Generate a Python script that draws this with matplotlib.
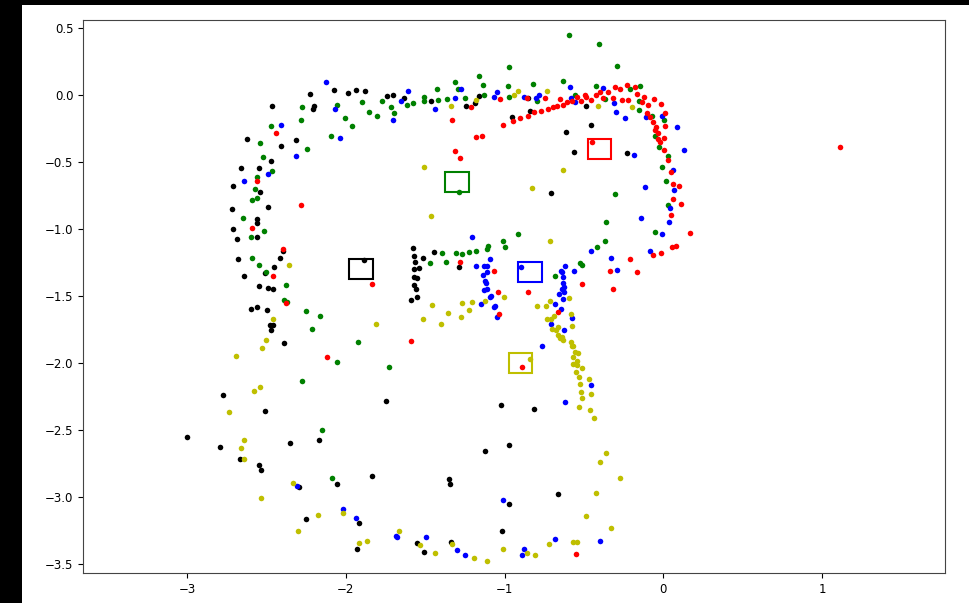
import numpy as np
import matplotlib
matplotlib.use('Agg')
import matplotlib.pyplot as plt
from matplotlib.patches import Rectangle

# scan points per track (x, y)
black_pts = np.array([
    (-2.077, 0.037), (-1.987, 0.013), (-1.936, 0.037), (-1.878, 0.030), (-1.741, -0.007),
    (-1.703, 0.0), (-1.632, -0.022), (-1.464, -0.047), (-2.199, -0.080), (-2.207, -0.104),
    (-2.226, 0.005), (-2.467, -0.085), (-2.621, -0.331), (-2.409, -0.378), (-2.316, -0.338),
    (-2.472, -0.493), (-2.661, -0.545), (-2.549, -0.545), (-2.713, -0.679), (-2.539, -0.726),
    (-2.492, -0.836), (-2.717, -0.853), (-2.562, -0.928), (-2.562, -0.957), (-2.713, -1.002),
    (-2.562, -1.060), (-2.686, -1.075),
    (-1.160, -0.005), (-1.187, -0.057), (-1.246, -0.085), (-0.851, -0.020), (-0.843, -0.117),
    (-0.952, -0.162), (-0.486, -0.080), (-0.455, -0.221), (-0.616, -0.279), (-0.564, -0.428),
    (-0.228, -0.435), (-0.707, -0.731),
    (-2.394, -1.164), (-2.679, -1.221), (-2.415, -1.216), (-2.453, -1.286), (-2.510, -1.331),
    (-2.642, -1.351), (-2.549, -1.428), (-2.489, -1.438), (-2.459, -1.450), (-2.596, -1.597),
    (-2.558, -1.584), (-2.497, -1.602), (-2.478, -1.719), (-2.459, -1.719), (-2.472, -1.756),
    (-2.388, -1.848), (-1.884, -1.234), (-2.776, -2.241), (-2.511, -2.358), (-1.747, -2.281),
    (-1.576, -1.144), (-1.569, -1.201), (-1.565, -1.246), (-1.569, -1.299), (-1.541, -1.289),
    (-1.569, -1.356), (-1.550, -1.366), (-1.569, -1.420), (-1.559, -1.450), (-1.552, -1.505),
    (-1.588, -1.532), (-1.514, -1.219), (-1.443, -1.169),
    (-1.290, -1.286), (-1.023, -2.313), (-0.817, -2.346),
    (-2.169, -2.572), (-2.350, -2.597), (-2.795, -2.629), (-2.667, -2.714), (-2.549, -2.759),
    (-2.537, -2.799), (-2.297, -2.928), (-2.058, -2.906), (-1.834, -2.843), (-2.253, -3.164),
    (-1.916, -3.192), (-1.928, -3.390), (-1.554, -3.346), (-1.508, -3.410),
    (-0.973, -2.609), (-1.126, -2.657), (-1.353, -2.868), (-1.346, -2.905), (-0.662, -2.978),
    (-0.973, -3.055), (-1.019, -3.256), (-1.340, -3.338), (-3.0, -2.552),
])

green_pts = np.array([
    (-1.579, -0.060), (-1.613, -0.072), (-1.508, -0.013), (-1.508, -0.047), (-1.424, 0.042),
    (-1.420, -0.035), (-1.697, -0.132), (-1.716, -0.092), (-1.775, -0.047), (-1.806, -0.157),
    (-1.853, -0.125), (-1.897, -0.055), (-1.962, -0.234), (-2.008, -0.169), (-2.092, -0.306),
    (-2.054, -0.072), (-2.278, -0.092), (-2.285, -0.184), (-2.474, -0.229), (-2.247, -0.403),
    (-2.539, -0.356), (-2.524, -0.460), (-2.465, -0.570), (-2.558, -0.609), (-2.574, -0.699),
    (-2.589, -0.784), (-2.558, -0.769), (-2.648, -0.918), (-2.518, -1.017), (-2.598, -1.060),
    (-0.973, 0.211), (-0.293, 0.219), (-1.160, 0.142), (-1.315, 0.095), (-1.135, 0.072),
    (-1.294, 0.042), (-0.979, 0.065), (-0.824, 0.082), (-0.631, 0.102), (-0.973, -0.013),
    (-0.798, -0.042), (-1.128, 0.0), (-1.363, -0.030), (-1.252, -0.020), (-0.555, 0.002),
    (-0.423, 0.069), (-0.366, -0.032), (-0.150, 0.069), (-0.209, 0.045), (-0.152, -0.112),
    (-0.156, -0.047), (-0.071, -0.154), (0.005, -0.187), (-0.052, -0.306), (-0.028, -0.390),
    (0.028, -0.455), (-0.009, -0.537), (0.014, -0.639), (0.028, -0.821), (-0.305, -0.739),
    (-0.364, -0.945), (-0.054, -1.022), (-1.290, -0.724), (-0.914, -1.035),
    (-0.370, -1.092), (-0.597, 0.445), (-0.404, 0.381),
    (-2.589, -1.214), (-2.549, -1.266), (-2.501, -1.318), (-2.375, -1.415), (-2.388, -1.532),
    (-2.371, -1.545), (-2.251, -1.614), (-2.161, -1.647), (-2.213, -1.744), (-1.922, -1.841),
    (-2.058, -1.990), (-1.729, -2.030), (-2.278, -2.132), (-1.470, -1.254),
    (-1.011, -1.087), (-0.998, -1.137), (-1.107, -1.127), (-1.110, -1.152), (-1.179, -1.164),
    (-1.225, -1.172), (-1.269, -1.189), (-1.309, -1.181), (-1.393, -1.181), (-1.372, -1.249),
    (-0.681, -1.351), (-0.417, -1.132), (-0.524, -1.251), (-0.515, -1.266),
    (-2.149, -2.500), (-2.086, -2.856),
])

blue_pts = np.array([
    (-2.123, 0.095), (-1.611, 0.030), (-1.651, -0.047), (-1.437, -0.104), (-1.703, -0.189),
    (-2.039, -0.318), (-2.067, -0.104), (-2.409, -0.221), (-2.316, -0.455), (-2.491, -0.590),
    (-2.642, -0.642),
    (-1.277, 0.045), (-0.591, 0.057), (-1.049, 0.020), (-1.069, -0.013), (-0.784, 0.0),
    (-0.803, -0.025), (-0.877, -0.013), (-1.313, -0.020), (-0.585, -0.025), (-0.557, -0.055),
    (-0.379, 0.050), (-0.314, -0.060), (-0.299, -0.129), (-0.241, -0.169), (-0.108, -0.162),
    (-0.008, -0.154), (0.087, -0.241), (0.127, -0.408), (0.060, -0.557), (0.068, -0.711),
    (-0.118, -0.687), (0.041, -0.841), (0.035, -0.945), (-0.140, -0.918), (-0.008, -1.035),
    (-0.184, -0.448), (-1.206, -1.060), (-0.085, -1.164), (-0.333, -1.214),
    (-0.897, -1.281), (-1.095, -1.221), (-1.179, -1.274), (-1.128, -1.274), (-1.110, -1.274),
    (-1.139, -1.343), (-1.113, -1.323), (-1.122, -1.388), (-1.118, -1.405), (-1.128, -1.455),
    (-1.110, -1.445), (-1.093, -1.505), (-1.086, -1.502), (-1.149, -1.557), (-1.069, -1.580),
    (-1.059, -1.572), (-1.048, -1.659), (-0.765, -1.876), (-0.622, -1.274), (-0.645, -1.311),
    (-0.641, -1.321), (-0.631, -1.361), (-0.633, -1.401), (-0.627, -1.433), (-0.639, -1.448),
    (-0.628, -1.468), (-0.660, -1.485), (-0.633, -1.522), (-0.683, -1.557), (-0.644, -1.599),
    (-0.707, -1.707), (-0.576, -1.667), (-0.628, -1.756), (-0.564, -1.311), (-0.455, -1.162),
    (-0.293, -1.306), (-0.457, -2.164), (-0.622, -2.289),
    (-2.306, -2.915), (-2.020, -3.092), (-1.936, -3.159), (-1.685, -3.289), (-1.678, -3.301),
    (-1.496, -3.301), (-1.011, -3.022), (-1.302, -3.398), (-1.250, -3.435), (-0.880, -3.386),
    (-0.889, -3.435), (-0.681, -3.313), (-0.402, -3.326),
])

red_pts = np.array([
    (-2.440, -0.286), (-2.558, -0.642), (-2.285, -0.821), (-2.589, -0.995),
    (-1.031, -0.028), (-0.746, -0.020), (-0.861, -0.025), (-1.210, -0.092), (-1.334, -0.189),
    (-0.946, -0.196), (-1.009, -0.226), (-0.902, -0.169), (-0.851, -0.154), (-0.817, -0.129),
    (-0.771, -0.117), (-0.727, -0.104), (-0.698, -0.092), (-0.669, -0.080), (-0.635, -0.077),
    (-0.654, -0.028), (-0.608, -0.055), (-0.578, -0.042), (-0.547, -0.017), (-0.520, -0.042),
    (-0.492, 0.002), (-0.488, -0.013), (-0.455, -0.037), (-0.427, -0.002), (-0.402, 0.022),
    (-0.350, 0.025), (-0.304, 0.057), (-0.274, 0.042), (-0.383, -0.022), (-0.318, -0.025),
    (-0.261, -0.040), (-0.222, -0.040), (-0.228, 0.077), (-0.178, 0.057), (-0.165, 0.010),
    (-0.125, -0.015), (-0.134, -0.055), (-0.099, -0.072), (-0.060, -0.028), (-0.016, -0.065),
    (-0.106, -0.132), (-0.083, -0.162), (0.009, -0.137), (-0.068, -0.201), (0.009, -0.234),
    (-0.049, -0.239), (-0.052, -0.261), (-0.035, -0.286), (0.005, -0.318), (-0.033, -0.326),
    (-0.024, -0.351), (0.005, -0.410), (0.030, -0.485), (0.045, -0.577), (0.060, -0.666),
    (0.100, -0.679), (0.062, -0.776), (0.108, -0.816), (0.049, -0.898), (0.165, -1.030),
    (-0.448, -0.351), (-1.179, -0.311), (-1.141, -0.306), (-1.315, -0.415), (-1.282, -0.468),
    (1.110, -0.390), (0.055, -1.132), (0.077, -1.125), (-0.016, -1.181), (-0.068, -1.194),
    (-0.211, -1.224),
    (-2.394, -1.149), (-2.459, -1.351), (-2.375, -1.555), (-2.117, -1.958), (-1.834, -1.408),
    (-1.588, -1.836), (-1.282, -1.249), (-1.067, -1.311), (-1.036, -1.634), (-1.044, -1.472),
    (-0.855, -1.468), (-0.889, -2.030), (-0.662, -1.617), (-0.513, -1.408), (-0.339, -1.311),
    (-0.318, -1.448), (-0.165, -1.318), (-0.553, -3.428),
])

yellow_pts = np.array([
    (-1.508, -0.537), (-1.464, -0.905),
    (-0.914, 0.032), (-0.940, 0.0), (-0.734, 0.032), (-1.183, -0.037), (-1.340, -0.085),
    (-0.414, -0.080), (-0.196, -0.092), (-0.635, -0.557), (-0.830, -0.692),
    (-2.356, -1.266), (-2.459, -1.674), (-2.505, -1.828), (-2.530, -1.886), (-2.692, -1.945),
    (-1.812, -1.707), (-2.577, -2.209), (-2.539, -2.177), (-2.738, -2.366), (-1.458, -1.565),
    (-1.516, -1.674),
    (-0.715, -1.092), (-1.004, -1.505), (-1.126, -1.537), (-1.204, -1.542), (-1.269, -1.550),
    (-1.225, -1.602), (-1.277, -1.654), (-1.359, -1.629), (-1.399, -1.707), (-0.841, -1.970),
    (-0.597, -1.512), (-0.798, -1.577), (-0.740, -1.572), (-0.713, -1.537), (-0.688, -1.649),
    (-0.710, -1.669), (-0.736, -1.674), (-0.585, -1.634), (-0.578, -1.726), (-0.702, -1.744),
    (-0.677, -1.756), (-0.662, -1.734), (-0.666, -1.793), (-0.641, -1.804), (-0.635, -1.826),
    (-0.652, -1.816), (-0.582, -1.841), (-0.572, -1.876), (-0.578, -1.873), (-0.557, -1.916),
    (-0.538, -1.925), (-0.572, -1.953), (-0.547, -1.985), (-0.568, -2.007), (-0.543, -2.012),
    (-0.513, -2.035), (-0.551, -2.067), (-0.532, -2.107), (-0.469, -2.122), (-0.526, -2.159),
    (-0.520, -2.216), (-0.457, -2.229), (-0.513, -2.263), (-0.532, -2.326), (-0.463, -2.353),
    (-0.436, -2.413),
    (-2.640, -2.572), (-2.661, -2.637), (-2.640, -2.714), (-2.331, -2.893), (-2.535, -3.005),
    (-2.300, -3.256), (-2.176, -3.134), (-2.020, -3.119), (-1.916, -3.341), (-1.865, -3.326),
    (-1.664, -3.256), (-1.533, -3.361), (-1.437, -3.416),
    (-0.364, -2.669), (-0.398, -2.739), (-0.274, -2.861), (-0.423, -2.970), (-0.488, -3.139),
    (-0.332, -3.229), (-1.334, -3.353), (-1.193, -3.455), (-1.113, -3.475), (-1.011, -3.386),
    (-0.861, -3.416), (-0.809, -3.435), (-0.721, -3.353), (-0.572, -3.338), (-0.545, -3.338),
])

# estimated landmark per track (square centres)
landmarks = {'k': (-1.903, -1.298), 'g': (-1.300, -0.648), 'b': (-0.842, -1.321),
             'r': (-0.403, -0.402), 'y': (-0.900, -1.998)}
box_size = 0.15

xticks = [-3, -2, -1, 0, 1]
yticks = [-3.5, -3.0, -2.5, -2.0, -1.5, -1.0, -0.5, 0.0, 0.5]

fig = plt.figure(figsize=(9.69, 6.03), dpi=100, facecolor='black')
# white canvas, black strip on the left and top like the screenshot
fig.add_artist(Rectangle((22 / 969, 0), 1, 598 / 603, transform=fig.transFigure,
                         facecolor='white', edgecolor='none', zorder=-10))

ax = fig.add_axes([83 / 969, 30 / 603, 862 / 969, 553 / 603])

for pts, c in zip([black_pts, green_pts, blue_pts, red_pts, yellow_pts], ['k', 'g', 'b', 'r', 'y']):
    ax.plot(pts[:, 0], pts[:, 1], '.', color=c, markersize=8, markeredgewidth=0)

for c, (cx, cy) in landmarks.items():
    ax.add_patch(Rectangle((cx - box_size / 2, cy - box_size / 2), box_size, box_size,
                           fill=False, edgecolor=c, linewidth=1.5))

ax.set_xlim(-3.655, 1.773)
ax.set_ylim(-3.567, 0.56)
ax.set_xticks(xticks)
ax.set_yticks(yticks)
ax.tick_params(labelsize=8.5)
for s in ax.spines.values():
    s.set_color('#444444')

fig.savefig('out.png', dpi=100, facecolor=fig.get_facecolor())
